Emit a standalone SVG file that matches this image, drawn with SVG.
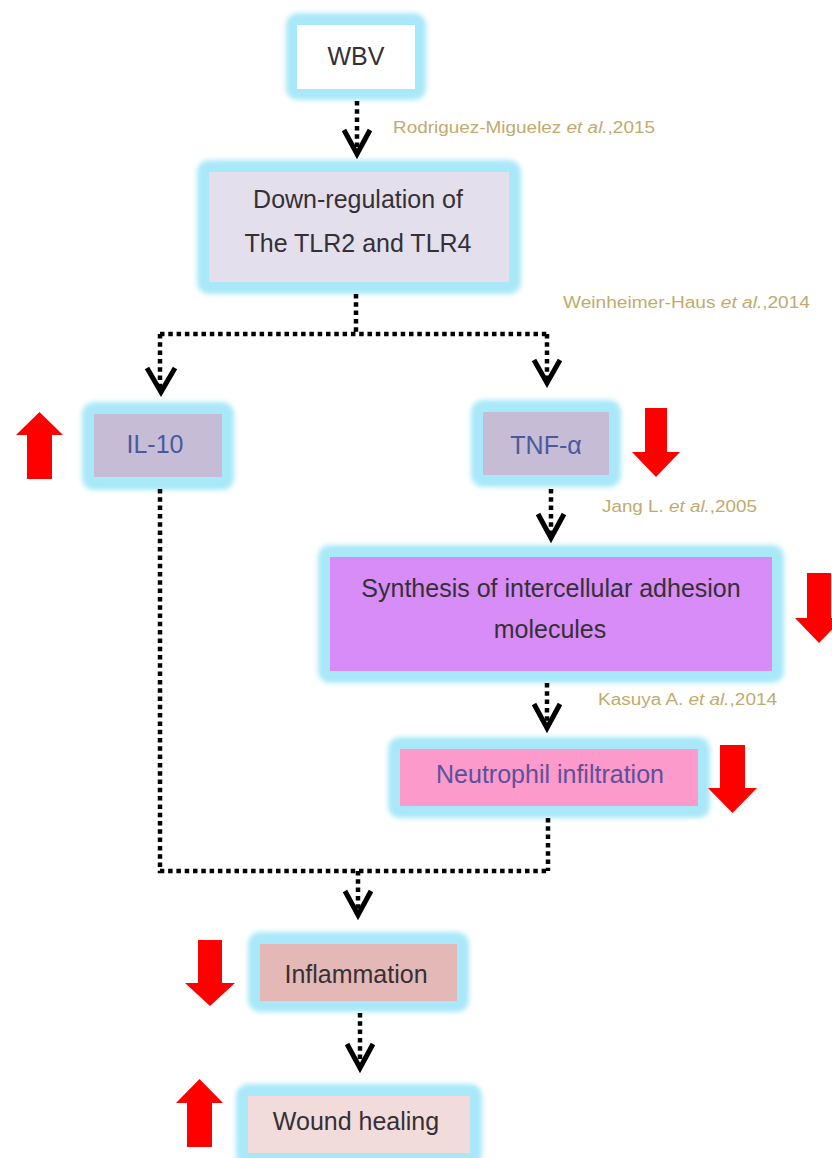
<svg xmlns="http://www.w3.org/2000/svg" width="832" height="1158" viewBox="0 0 832 1158">
  <defs>
    <filter id="soft" x="-20%" y="-20%" width="140%" height="140%">
      <feGaussianBlur stdDeviation="2.5"/>
    </filter>
    <filter id="edge" x="-10%" y="-10%" width="120%" height="120%">
      <feGaussianBlur stdDeviation="0.6"/>
    </filter>
    <style>
      .glow { fill: #a8e8f8; filter: url(#soft); }
      .lbl { font-family: "Liberation Sans", Arial, sans-serif; font-size: 25px; fill: #353035; text-anchor: middle; }
      .blue { fill: #4a5a9c; }
      .violet { fill: #5e5098; }
      .cite { font-family: "Liberation Sans", Arial, sans-serif; font-size: 16px; fill: #c2aa6e; }
      .it { font-style: italic; }
      .dot { fill: none; stroke: #000; stroke-width: 4.5; stroke-dasharray: 4.5 3.8; }
      .head { fill: none; stroke: #000; stroke-width: 5; stroke-linejoin: miter; }
      .red { fill: #ff0000; filter: url(#edge); }
    </style>
  </defs>

  <!-- nodes -->
  <g id="wbv">
    <rect class="glow" x="286" y="13" width="140" height="87" rx="12"/>
    <rect x="297" y="25" width="118" height="64" fill="#ffffff"/>
    <text class="lbl" x="356" y="65">WBV</text>
  </g>

  <g id="downregulation">
    <rect class="glow" x="197" y="160" width="324" height="134" rx="12"/>
    <rect x="209" y="172" width="300" height="110" fill="#e4dfec"/>
    <text class="lbl" x="358" y="208">Down-regulation of</text>
    <text class="lbl" x="358" y="252">The TLR2 and TLR4</text>
  </g>

  <g id="il10">
    <rect class="glow" x="82" y="402" width="152" height="88" rx="12"/>
    <rect x="94" y="414" width="128" height="63" fill="#c6bcd6"/>
    <text class="lbl blue" x="155" y="453">IL-10</text>
  </g>

  <g id="tnf">
    <rect class="glow" x="471" y="400" width="150" height="87" rx="12"/>
    <rect x="483" y="412" width="126" height="63" fill="#c6bcd6"/>
    <text class="lbl blue" x="546" y="454">TNF-α</text>
  </g>

  <g id="adhesion">
    <rect class="glow" x="318" y="545" width="466" height="138" rx="12"/>
    <rect x="330" y="557" width="442" height="114" fill="#d88cf8"/>
    <text class="lbl" x="551" y="597">Synthesis of intercellular adhesion</text>
    <text class="lbl" x="550" y="638">molecules</text>
  </g>

  <g id="neutrophil">
    <rect class="glow" x="388" y="737" width="322" height="81" rx="12"/>
    <rect x="400" y="749" width="298" height="57" fill="#fb9acb"/>
    <text class="lbl violet" x="550" y="783">Neutrophil infiltration</text>
  </g>

  <g id="inflammation">
    <rect class="glow" x="248" y="932" width="221" height="80" rx="12"/>
    <rect x="260" y="944" width="197" height="57" fill="#e5b8b8"/>
    <text class="lbl" x="356" y="983">Inflammation</text>
  </g>

  <g id="wound">
    <rect class="glow" x="236" y="1084" width="246" height="82" rx="12"/>
    <rect x="248" y="1096" width="222" height="57" fill="#f2dcdb"/>
    <text class="lbl" x="356" y="1130">Wound healing</text>
  </g>

  <!-- connectors -->
  <g id="connectors">
    <path class="dot" d="M357,101 V152"/>
    <path class="head" d="M344,130 L357,154 L370,130"/>

    <path class="dot" d="M356,294 V334 M160,334 H547 M160,334 V390 M547,334 V382"/>
    <path class="head" d="M147,368 L161,392 L175,368"/>
    <path class="head" d="M534,360 L547,383 L560,360"/>

    <path class="dot" d="M551,489 V536"/>
    <path class="head" d="M538,514 L551,538 L564,514"/>

    <path class="dot" d="M547,683 V726"/>
    <path class="head" d="M534,704 L547,728 L560,704"/>

    <path class="dot" d="M160,489 V871 H548 M548,818 V871 M358,871 V913"/>
    <path class="head" d="M345,891 L358,915 L371,891"/>

    <path class="dot" d="M360,1013 V1066"/>
    <path class="head" d="M347,1044 L360,1068 L373,1044"/>
  </g>

  <!-- change indicators -->
  <g id="indicators">
    <path class="red" d="M27,479 V435 H16 L39.5,412 L63,435 H52 V479 Z"/>
    <path class="red" d="M645,408 V452 H632 L656,477 L680,452 H667 V408 Z"/>
    <path class="red" d="M807,573 V618 H795 L819,643 L843,618 H831 V573 Z"/>
    <path class="red" d="M720,745 V788 H708 L732.5,813 L757,788 H745 V745 Z"/>
    <path class="red" d="M198,940 V983 H185 L210,1006 L235,983 H222 V940 Z"/>
    <path class="red" d="M187,1147 V1103 H176 L199.5,1079 L223,1103 H212 V1147 Z"/>
  </g>

  <!-- references -->
  <g id="citations">
    <text class="cite" x="393" y="133" textLength="262" lengthAdjust="spacingAndGlyphs">Rodriguez-Miguelez <tspan class="it">et al.</tspan>,2015</text>
    <text class="cite" x="563" y="308" textLength="247" lengthAdjust="spacingAndGlyphs">Weinheimer-Haus <tspan class="it">et al.</tspan>,2014</text>
    <text class="cite" x="602" y="512" textLength="155" lengthAdjust="spacingAndGlyphs">Jang L. <tspan class="it">et al.</tspan>,2005</text>
    <text class="cite" x="598" y="705" textLength="179" lengthAdjust="spacingAndGlyphs">Kasuya A. <tspan class="it">et al.</tspan>,2014</text>
  </g>
</svg>
